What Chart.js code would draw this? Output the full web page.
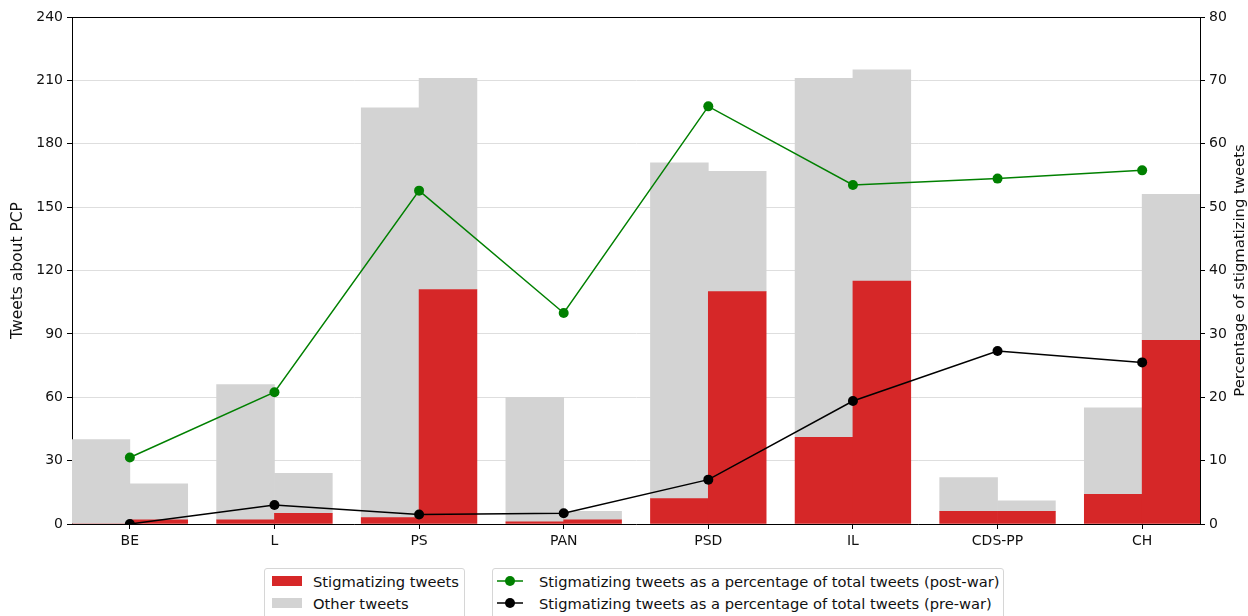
<!DOCTYPE html>
<html>
<head>
<meta charset="utf-8">
<title>Tweets about PCP</title>
<script src="https://cdn.jsdelivr.net/npm/chart.js@4"></script>
<style>
  body { margin: 0; background: #fff; overflow: hidden; }
  #wrap { position: relative; width: 1248px; height: 616px; }
  .legend {
    position: absolute; top: 568px; height: 60px; box-sizing: border-box;
    border: 1px solid #d6d6d6; border-radius: 3px; background: #fff;
    padding-top: 1px; font: 14.7px "DejaVu Sans", sans-serif; color: #111;
  }
  .legend .row { height: 22px; display: flex; align-items: center; white-space: nowrap; }
  .legend .patch { width: 30px; height: 10px; margin: 0 11px 0 7px; }
  .legend svg { margin: 0 16px 0 4px; }
</style>
</head>
<body>
<div id="wrap">
  <canvas id="tweetsChart" width="1248" height="616"></canvas>
  <div class="legend" id="barLegend" style="left:264px;width:201px"></div>
  <div class="legend" id="lineLegend" style="left:492px;width:512px"></div>
</div>
<script>
// parties on the x axis
const parties = ['BE', 'L', 'PS', 'PAN', 'PSD', 'IL', 'CDS-PP', 'CH'];

// tweet counts, left bar = pre-war, right bar = post-war
const stigPre = [0, 2, 3, 1, 12, 41, 6, 14];
const otherPre = [40, 64, 194, 59, 159, 170, 16, 41];
const stigPost = [2, 5, 111, 2, 110, 115, 6, 87];
const otherPost = [17, 19, 100, 4, 57, 100, 5, 69];

// share of stigmatizing tweets (%)
const pctPost = [10.5, 20.8, 52.6, 33.3, 65.9, 53.5, 54.5, 55.8];
const pctPre = [0, 3.0, 1.5, 1.7, 7.0, 19.4, 27.3, 25.5];

const RED = '#d62728';
const GREY = '#d3d3d3';
const TEXT = '#111';

Chart.defaults.font.family = '"DejaVu Sans", sans-serif';
Chart.defaults.font.size = 14;
Chart.defaults.color = TEXT;

// pre-war bar sits at i - 0.2, post-war at i + 0.2
const pairUp = (pre, post) => pre.flatMap((v, i) => [
    { x: i - 0.2, y: v },
    { x: i + 0.2, y: post[i] }
]);
const points = vals => vals.map((v, i) => ({ x: i, y: v }));

// top spine and the right-hand axis title (reads bottom to top)
const frame = {
    id: 'frame',
    afterDraw(chart) {
        const { ctx, chartArea: a } = chart;
        ctx.save();
        ctx.strokeStyle = '#000';
        ctx.lineWidth = 1;
        ctx.beginPath();
        ctx.moveTo(a.left, a.top + 0.5);
        ctx.lineTo(a.right, a.top + 0.5);
        ctx.stroke();

        ctx.translate(1240, (a.top + a.bottom) / 2);
        ctx.rotate(-Math.PI / 2);
        ctx.font = '14.8px "DejaVu Sans", sans-serif';
        ctx.fillStyle = TEXT;
        ctx.textAlign = 'center';
        ctx.textBaseline = 'middle';
        ctx.fillText('Percentage of stigmatizing tweets', 0, 0);
        ctx.restore();
    }
};

const chart = new Chart('tweetsChart', { //eslint-disable-line
    type: 'bar',
    data: {
        datasets: [
            {
                label: 'Stigmatizing tweets',
                data: pairUp(stigPre, stigPost),
                backgroundColor: RED,
                stack: 'tweets',
                order: 2
            },
            {
                label: 'Other tweets',
                data: pairUp(otherPre, otherPost),
                backgroundColor: GREY,
                stack: 'tweets',
                order: 2
            },
            {
                type: 'line',
                label: 'Stigmatizing tweets as a percentage of total tweets (post-war)',
                data: points(pctPost),
                yAxisID: 'y1',
                borderColor: 'green',
                backgroundColor: 'green',
                borderWidth: 1.5,
                pointRadius: 5,
                pointBorderWidth: 0,
                order: 1
            },
            {
                type: 'line',
                label: 'Stigmatizing tweets as a percentage of total tweets (pre-war)',
                data: points(pctPre),
                yAxisID: 'y1',
                borderColor: '#000',
                backgroundColor: '#000',
                borderWidth: 1.5,
                pointRadius: 5,
                pointBorderWidth: 0,
                order: 1
            }
        ]
    },
    options: {
        responsive: false,
        animation: false,
        devicePixelRatio: 1,
        layout: { padding: { top: 17, left: 0, right: 0, bottom: 0 } },
        datasets: {
            bar: { categoryPercentage: 1, barPercentage: 1, borderWidth: 0 }
        },
        plugins: {
            legend: { display: false },
            tooltip: { enabled: false }
        },
        scales: {
            x: {
                type: 'linear',
                min: -0.4,
                max: 7.4,
                offset: false,
                afterBuildTicks: s => { s.ticks = parties.map((_, i) => ({ value: i })); },
                ticks: {
                    callback: v => parties[v],
                    autoSkip: false,
                    maxRotation: 0,
                    padding: 4
                },
                grid: { offset: false, drawOnChartArea: false, tickLength: 5, tickColor: '#000' },
                border: { color: '#000' },
                afterFit: s => { s.height = 92; }
            },
            y: {
                stacked: true,
                min: 0,
                max: 240,
                ticks: { stepSize: 30, padding: 4 },
                grid: { color: '#dedede', tickColor: '#000', tickLength: 5 },
                border: { color: '#000' },
                title: {
                    display: true,
                    text: 'Tweets about PCP',
                    font: { size: 15.5 },
                    padding: { top: 9, bottom: 0 }
                },
                afterFit: s => { s.width = 72; }
            },
            y1: {
                position: 'right',
                min: 0,
                max: 80,
                ticks: { stepSize: 10, padding: 4 },
                grid: { drawOnChartArea: false, tickColor: '#000', tickLength: 5 },
                border: { color: '#000' },
                afterFit: s => { s.width = 48; }
            }
        }
    },
    plugins: [frame]
});

// legends under the plot: bar colours on the left, line markers on the right
const sets = chart.data.datasets;
document.getElementById('barLegend').innerHTML = sets.slice(0, 2).map(ds =>
    `<div class="row"><span class="patch" style="background:${ds.backgroundColor}"></span>${ds.label}</div>`
).join('');
document.getElementById('lineLegend').innerHTML = sets.slice(2).map(ds =>
    `<div class="row"><svg width="26" height="12"><line x1="0" y1="6" x2="26" y2="6" stroke="${ds.borderColor}" stroke-width="1.5"/><circle cx="13" cy="6" r="5" fill="${ds.borderColor}"/></svg>${ds.label}</div>`
).join('');
</script>
</body>
</html>
